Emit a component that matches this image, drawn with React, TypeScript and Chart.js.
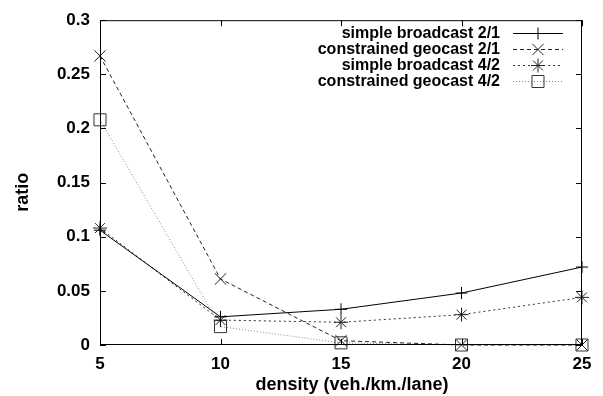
import React, { useEffect, useRef } from "react";
import { Chart, registerables } from "chart.js";
import { drawPoint } from "chart.js/helpers";

Chart.register(...registerables);

const densities = [5, 10, 15, 20, 25];
const simpleBroadcast21 = [0.106, 0.026, 0.033, 0.048, 0.072];
const constrainedGeocast21 = [0.267, 0.061, 0.004, 0.0, 0.0];
const simpleBroadcast42 = [0.108, 0.023, 0.021, 0.028, 0.044];
const constrainedGeocast42 = [0.208, 0.017, 0.002, 0.0, 0.0];
const seriesNames = [
  "simple broadcast 2/1",
  "constrained geocast 2/1",
  "simple broadcast 4/2",
  "constrained geocast 4/2",
];
const yTickValues = [0, 0.05, 0.1, 0.15, 0.2, 0.25, 0.3];
const yTickLabels = ["0", "0.05", "0.1", "0.15", "0.2", "0.25", "0.3"];
const xTickValues = [5, 10, 15, 20, 25];
const xTickLabels = ["5", "10", "15", "20", "25"];
const xTitle = "density (veh./km./lane)";
const yTitle = "ratio";

const FONT = "'Liberation Sans', Arial, Helvetica, sans-serif";

const framePlugin = {
  id: "gnuplotFrame",
  afterDatasetsDraw(chart: any) {
    const { ctx, chartArea } = chart;
    const { left, right, top, bottom } = chartArea;
    const xs = chart.scales.x;
    const ys = chart.scales.y;
    ctx.save();
    ctx.strokeStyle = "#000";
    ctx.lineWidth = 1;
    ctx.setLineDash([]);
    ctx.beginPath();
    ctx.rect(left + 0.5, top + 0.5, right - left - 1, bottom - top - 1);
    ctx.stroke();
    const tl = 6;
    ctx.beginPath();
    yTickValues.forEach((v) => {
      const y = Math.round(ys.getPixelForValue(v)) + 0.5;
      ctx.moveTo(left, y);
      ctx.lineTo(left + tl, y);
      ctx.moveTo(right, y);
      ctx.lineTo(right - tl, y);
    });
    xTickValues.forEach((v) => {
      const x = Math.round(xs.getPixelForValue(v)) + 0.5;
      ctx.moveTo(x, bottom);
      ctx.lineTo(x, bottom - tl);
      ctx.moveTo(x, top);
      ctx.lineTo(x, top + tl);
    });
    ctx.stroke();

    // axis titles
    ctx.fillStyle = "#000";
    ctx.font = `bold 18px ${FONT}`;
    ctx.textAlign = "center";
    ctx.textBaseline = "middle";
    ctx.fillText(xTitle, left + 252, bottom + 40);
    ctx.save();
    ctx.translate(23, top + 172);
    ctx.rotate(-Math.PI / 2);
    ctx.fillText(yTitle, 0, 0);
    ctx.restore();

    // legend
    ctx.font = `bold 16px ${FONT}`;
    ctx.textAlign = "right";
    ctx.textBaseline = "middle";
    chart.data.datasets.forEach((ds: any, i: number) => {
      const y = top + 13 + 16 * i;
      ctx.fillStyle = "#000";
      ctx.fillText(seriesNames[i], right - 82, y);
      ctx.save();
      ctx.strokeStyle = ds.borderColor;
      ctx.lineWidth = ds.borderWidth;
      ctx.setLineDash(ds.borderDash || []);
      ctx.beginPath();
      ctx.moveTo(right - 69, Math.round(y) + 0.5);
      ctx.lineTo(right - 19, Math.round(y) + 0.5);
      ctx.stroke();
      ctx.restore();
      ctx.save();
      ctx.strokeStyle = ds.pointBorderColor;
      ctx.fillStyle = "rgba(0,0,0,0)";
      ctx.lineWidth = 1;
      ctx.setLineDash([]);
      drawPoint(ctx, { pointStyle: ds.pointStyle, radius: ds.pointRadius, borderWidth: 1, rotation: 0 }, right - 44, Math.round(y) + 0.5);
      ctx.restore();
    });
    ctx.restore();
  },
};

export default function App() {
  const ref = useRef<HTMLCanvasElement | null>(null);
  useEffect(() => {
    document.body.style.margin = "0";
    const mk = (data: number[], style: string, radius: number, dash: number[], color: string, pcolor: string) => ({
      data: densities.map((d, i) => ({ x: d, y: data[i] })),
      borderColor: color,
      borderWidth: 1,
      borderDash: dash,
      pointStyle: style,
      pointRadius: radius,
      pointBorderColor: pcolor,
      pointBackgroundColor: "rgba(0,0,0,0)",
      pointBorderWidth: 1,
      tension: 0,
      fill: false,
      clip: false,
    });
    const chart = new Chart(ref.current as HTMLCanvasElement, {
      type: "line",
      data: {
        datasets: [
          mk(simpleBroadcast21, "cross", 6, [], "#000", "#000"),
          mk(constrainedGeocast21, "crossRot", 8, [4, 3], "#222", "#222"),
          mk(simpleBroadcast42, "star", 7, [2, 3], "#333", "#222"),
          mk(constrainedGeocast42, "rect", 8.5, [1, 2], "#888", "#333"),
        ] as any,
      },
      options: {
        animation: false,
        responsive: true,
        maintainAspectRatio: false,
        layout: { padding: { top: 11, right: 21, left: 0, bottom: 0 } },
        plugins: { legend: { display: false }, tooltip: { enabled: false } },
        scales: {
          x: {
            type: "linear",
            min: 5,
            max: 25,
            afterFit: (s: any) => {
              s.height = 51;
            },
            afterBuildTicks: (s: any) => {
              s.ticks = xTickValues.map((v) => ({ value: v }));
            },
            ticks: {
              padding: 9,
              color: "#000",
              font: { family: FONT, size: 17, weight: "bold" },
              callback: (v: any) => xTickLabels[xTickValues.indexOf(Number(v))] ?? "",
            },
            grid: { display: false, drawTicks: false },
            border: { display: false },
            title: { display: false },
          },
          y: {
            type: "linear",
            min: 0,
            max: 0.3,
            afterFit: (s: any) => {
              s.width = 100;
            },
            afterBuildTicks: (s: any) => {
              s.ticks = yTickValues.map((v) => ({ value: v }));
            },
            ticks: {
              padding: 10,
              color: "#000",
              font: { family: FONT, size: 17, weight: "bold" },
              callback: (v: any) => {
                const idx = yTickValues.findIndex((t) => Math.abs(t - Number(v)) < 1e-9);
                return idx >= 0 ? yTickLabels[idx] : "";
              },
            },
            grid: { display: false, drawTicks: false },
            border: { display: false },
            title: { display: false },
          },
        },
      },
      plugins: [framePlugin],
    });
    return () => chart.destroy();
  }, []);
  return (
    <div style={{ position: "absolute", left: 0, top: 0, width: 603, height: 396 }}>
      <canvas ref={ref} />
    </div>
  );
}
